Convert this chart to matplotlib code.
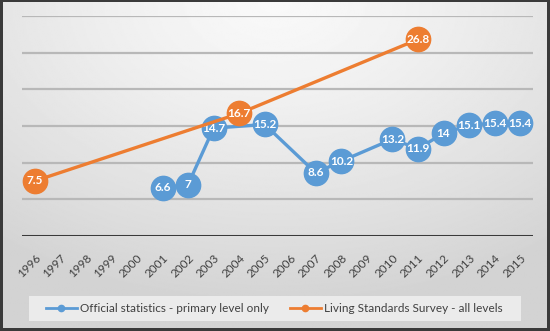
import numpy as np
import matplotlib
matplotlib.use("Agg")
import matplotlib.pyplot as plt
from matplotlib.lines import Line2D
from matplotlib.patches import Rectangle

years = [str(y) for y in range(1996, 2016)]
official = [np.nan, np.nan, np.nan, np.nan, np.nan, 6.6, 7, 14.7, np.nan, 15.2,
            np.nan, 8.6, 10.2, np.nan, 13.2, 11.9, 14, 15.1, 15.4, 15.4]
survey = [7.5, np.nan, np.nan, np.nan, np.nan, np.nan, np.nan, np.nan, 16.7, np.nan,
          np.nan, np.nan, np.nan, np.nan, np.nan, 26.8, np.nan, np.nan, np.nan, np.nan]
series_names = ["Official statistics - primary level only",
                "Living Standards Survey - all levels"]
yticks = [0, 5, 10, 15, 20, 25, 30]

plt.rcParams['font.family'] = ['Lato', 'DejaVu Sans']

BLUE = "#5B9BD5"
ORANGE = "#ED7D31"

fig = plt.figure(figsize=(5.5, 3.31), dpi=100)
fig.patch.set_facecolor("#3a3a3a")

# background gradient
bg = fig.add_axes([0.006, 0.01, 0.988, 0.985])
bg.set_axis_off()
xx, yy = np.meshgrid(np.linspace(0, 1, 300), np.linspace(0, 1, 300))
d = np.sqrt(((xx - 0.5) * 1.0) ** 2 + ((yy - 0.0) * 0.9) ** 2)
val = 0.975 - 0.15 * np.clip(d / 0.85, 0, 1) ** 1.3
bg.imshow(val, cmap="gray", vmin=0, vmax=1, aspect="auto", extent=[0, 1, 0, 1], origin="upper")

ax = fig.add_axes([0.04, 0.287, 0.929, 0.665])
ax.set_facecolor("none")
x = np.arange(len(years))

def plot_series(vals, color, name, z):
    v = np.array(vals, dtype=float)
    m = ~np.isnan(v)
    ax.plot(x[m], v[m], color=color, lw=2.4, marker="o", ms=17.5,
            mfc=color, mec=color, zorder=z, label=name, clip_on=False)
    for xi, yi in zip(x[m], v[m]):
        ax.text(xi, yi, f"{yi:g}", ha="center", va="center", color="white",
                fontsize=8.5, fontweight="bold", zorder=z + 1)

plot_series(official, BLUE, series_names[0], 3)
plot_series(survey, ORANGE, series_names[1], 5)

ax.set_xlim(-0.5, len(years) - 0.5)
ax.set_ylim(0, 30)
ax.set_yticks(yticks)
ax.yaxis.set_visible(False)
for yt in yticks[1:]:
    ax.axhline(yt, color="#b8b8b8", lw=1.6, zorder=1)
ax.axhline(0, color="#3a3a3a", lw=2.2, zorder=2)
for s in ax.spines.values():
    s.set_visible(False)
ax.set_xticks(x)
ax.set_xticklabels(years, rotation=45, ha="right", rotation_mode="anchor",
                   fontsize=8.5, color="#404040")
ax.tick_params(axis="x", length=0, pad=12)

# legend background box
fig.patches.append(Rectangle((29 / 550, 1 - 321 / 331), 492 / 550, 25 / 331,
                             transform=fig.transFigure, facecolor="#ebebeb",
                             edgecolor="none", zorder=1))

colors = [BLUE, ORANGE]
starts = [46 / 550, 290 / 550]
for name, col, x0 in zip(series_names, colors, starts):
    h = Line2D([0], [0], color=col, lw=2, marker="o", ms=4.5)
    lg = fig.legend([h], [name], loc="center left",
                    bbox_to_anchor=(x0, 1 - 308.5 / 331), frameon=False,
                    fontsize=8.5, handlelength=2.6, handletextpad=0.25,
                    borderpad=0, borderaxespad=0)
    for t in lg.get_texts():
        t.set_color("#404040")

fig.savefig("out.png", dpi=100, facecolor=fig.get_facecolor())
